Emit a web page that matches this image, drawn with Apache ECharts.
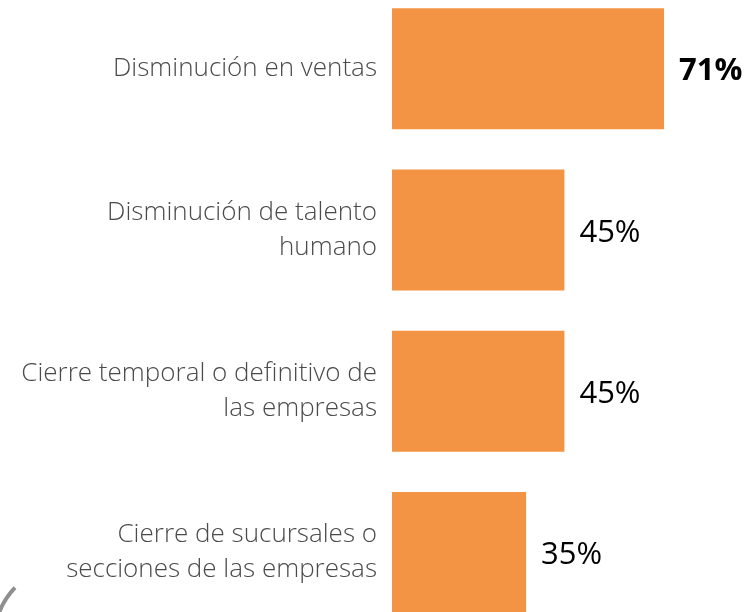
<!DOCTYPE html>
<html>
<head>
<meta charset="utf-8">
<script src="https://cdn.jsdelivr.net/npm/echarts@6/dist/echarts.min.js"></script>
<style>
  html, body { margin: 0; padding: 0; background: #fff; }
  #chart { width: 746px; height: 612px; }
</style>
</head>
<body>
<div id="chart"></div>
<script>
// categories top to bottom
const categories = [
  'Disminución en ventas',
  'Disminución de talento\nhumano',
  'Cierre temporal o definitivo de\nlas empresas',
  'Cierre de sucursales o\nsecciones de las empresas'
];
const values = [71, 45, 45, 35];
const boldIndex = [0]; // value label drawn in bold

const chart = echarts.init(document.getElementById('chart'));

chart.setOption({
  animation: false,
  grid: {
    left: 392, right: 47.5, top: -12, bottom: -21,
    containLabel: false, outerBoundsMode: 'none'
  },
  xAxis: {
    type: 'value', min: 0, max: 80,
    show: false
  },
  yAxis: {
    type: 'category',
    inverse: true,
    data: categories,
    axisLine: { show: false },
    axisTick: { show: false },
    axisLabel: {
      margin: 15,
      fontFamily: 'Open Sans',
      fontWeight: 300,
      fontSize: 26,
      lineHeight: 35,
      padding: [13, 0, 0, 0],
      color: '#4a4a4a',
      align: 'right'
    }
  },
  series: [{
    type: 'bar',
    barWidth: 121,
    itemStyle: { color: '#F29444' },
    data: values.map((v, i) => ({
      value: v,
      label: { fontWeight: boldIndex.includes(i) ? 'bold' : 'normal' }
    })),
    label: {
      show: true,
      position: 'right',
      distance: 15,
      offset: [0, 3],
      formatter: '{c}%',
      fontFamily: 'Open Sans',
      fontSize: 31,
      color: '#000'
    }
  }],
  graphic: [{
    type: 'arc',
    shape: { cx: 70, cy: 640, r: 76, startAngle: -2.95, endAngle: -2.38 },
    style: { stroke: '#8f8f8f', lineWidth: 4, fill: null }
  }]
});
</script>
</body>
</html>
